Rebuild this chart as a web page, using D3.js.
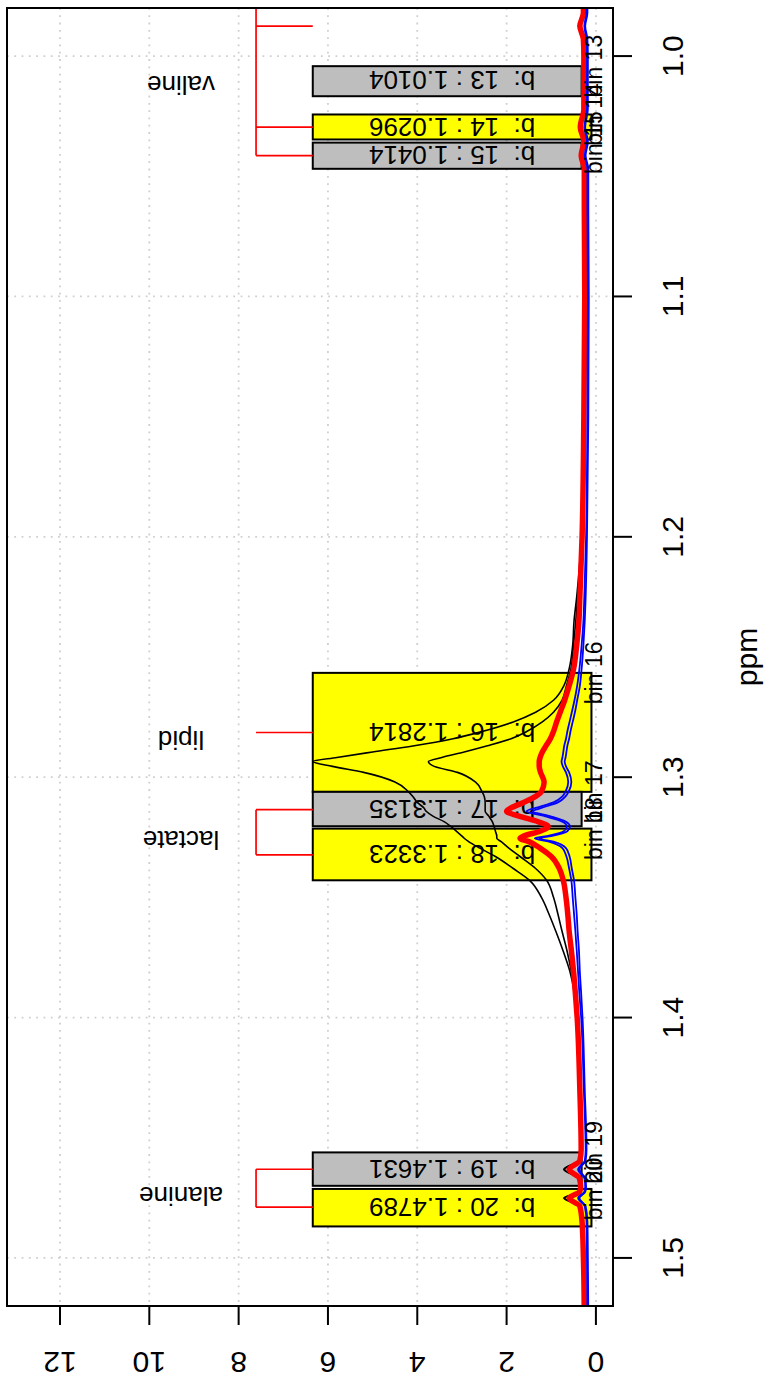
<!DOCTYPE html>
<html><head><meta charset="utf-8">
<script src="https://cdn.jsdelivr.net/npm/d3@7"></script>
<style>html,body{margin:0;padding:0;background:#fff}text{font-family:"Liberation Sans",Arial,Helvetica,sans-serif;white-space:pre}</style>
</head><body>
<svg id="chart" width="773" height="1384"></svg>
<script>
// ---- data ----
const ppm = [0.975,0.982,0.9875,0.993,1.000,1.010,1.022,1.0296,1.0355,1.0414,
 1.047,1.060,1.100,1.150,1.200,1.225,1.235,1.245,1.255,1.262,
 1.268,1.273,1.277,1.281,1.284,1.287,1.2895,1.2918,1.2935,1.2955,
 1.298,1.302,1.306,1.308,1.3105,1.3128,1.3142,1.3162,1.3185,1.3205,
 1.3225,1.3245,1.3254,1.3268,1.3295,1.333,1.338,1.343,1.350,1.357,
 1.364,1.372,1.381,1.390,1.400,1.430,1.455,1.4595,1.4632,1.4668,
 1.4705,1.4725,1.4751,1.4785,1.485,1.500,1.525];
const redSpectrum = [0.28,0.28,0.36,0.28,0.27,0.27,0.27,0.35,0.27,0.33,
 0.26,0.26,0.25,0.27,0.31,0.36,0.38,0.43,0.50,0.60,
 0.70,0.80,0.88,0.95,1.02,1.12,1.20,1.25,1.27,1.27,
 1.24,1.16,1.22,1.35,1.62,1.90,2.00,1.72,1.30,1.07,
 1.25,1.62,1.70,1.50,1.25,1.00,0.82,0.73,0.67,0.63,
 0.60,0.55,0.50,0.46,0.42,0.36,0.33,0.36,0.60,0.37,
 0.34,0.37,0.60,0.36,0.31,0.28,0.26];
const blueSpectrum1 = [0.21,0.21,0.26,0.21,0.20,0.20,0.20,0.26,0.20,0.25,
 0.19,0.19,0.18,0.19,0.22,0.26,0.28,0.32,0.37,0.42,
 0.48,0.54,0.59,0.64,0.67,0.71,0.73,0.75,0.77,0.74,
 0.67,0.62,0.68,0.75,0.95,1.35,1.55,1.15,0.75,0.65,
 0.72,1.10,1.37,1.05,0.75,0.66,0.60,0.55,0.52,0.49,
 0.46,0.43,0.40,0.37,0.33,0.27,0.23,0.25,0.40,0.26,
 0.24,0.26,0.40,0.25,0.21,0.20,0.19];
const blueSpectrum2 = [0.19,0.19,0.24,0.19,0.18,0.18,0.18,0.24,0.18,0.23,
 0.17,0.17,0.16,0.17,0.20,0.23,0.25,0.28,0.32,0.36,
 0.42,0.47,0.52,0.57,0.60,0.64,0.66,0.68,0.70,0.67,
 0.60,0.55,0.61,0.68,0.85,1.22,1.42,1.03,0.67,0.58,
 0.64,1.00,1.27,0.95,0.67,0.59,0.54,0.49,0.46,0.43,
 0.41,0.38,0.36,0.33,0.30,0.25,0.21,0.23,0.37,0.24,
 0.22,0.24,0.37,0.23,0.19,0.18,0.17];
const blackSpectrum1 = [0.29,0.29,0.39,0.29,0.28,0.28,0.28,0.37,0.28,0.35,
 0.27,0.27,0.26,0.28,0.33,0.43,0.49,0.52,0.60,0.72,
 0.95,1.35,1.85,2.55,3.20,4.10,5.00,5.80,6.34,5.90,
 5.20,4.50,4.20,4.10,4.00,3.85,3.80,3.65,3.40,3.25,
 3.12,3.00,2.95,2.85,2.60,2.25,1.85,1.48,1.22,1.05,
 0.90,0.74,0.58,0.48,0.42,0.35,0.33,0.38,0.72,0.38,
 0.34,0.38,0.72,0.37,0.31,0.28,0.27];
const blackSpectrum2 = [0.29,0.29,0.37,0.29,0.28,0.28,0.28,0.36,0.28,0.34,
 0.27,0.27,0.26,0.28,0.32,0.41,0.45,0.50,0.56,0.66,
 0.76,0.95,1.20,1.55,1.90,2.45,2.95,3.45,3.75,3.62,
 3.10,2.70,2.55,2.50,2.48,2.48,2.48,2.40,2.32,2.28,
 2.25,2.22,2.22,2.12,1.95,1.70,1.35,1.10,0.95,0.85,
 0.76,0.65,0.55,0.47,0.41,0.34,0.32,0.37,0.70,0.37,
 0.33,0.37,0.70,0.36,0.30,0.27,0.26];

const binIds = [13,14,15,16,17,18,19,20];
const binCenters = [1.0104,1.0296,1.0414,1.2814,1.3135,1.3323,1.4631,1.4789];
const binStart = [1.0042,1.0243,1.0360,1.2566,1.3061,1.3214,1.4561,1.4713];
const binEnd   = [1.0167,1.0347,1.0469,1.3061,1.3204,1.3429,1.4700,1.4869];
const binTop = 6.34;
const binBottomEven = 0.10, binBottomOdd = 0.32;

const metaboliteNames = ["valine","lipid","lactate","alanine"];
const metaboliteBinCenters = [[0.9757,0.9875,1.0296,1.0414],[1.2814],[1.3135,1.3323],[1.4631,1.4789]];

const ppmTicks = [1.0,1.1,1.2,1.3,1.4,1.5];
const intensityTicks = [0,2,4,6,8,10,12];
const ppmDomain = [0.98,1.52];
const intensityDomain = [-0.3825,13.1865];

// ---- layout ----
const box = {left:7,right:613,top:8,bottom:1306};
const svg = d3.select("#chart");
const y = d3.scaleLinear().domain(ppmDomain).range([box.top,box.bottom]);
const x = d3.scaleLinear().domain(intensityDomain).range([box.right,box.left]);

svg.append("defs").append("clipPath").attr("id","clip")
  .append("rect").attr("x",box.left).attr("y",box.top)
  .attr("width",box.right-box.left).attr("height",box.bottom-box.top);

// grid
const grid = svg.append("g").attr("stroke","#cfcfcf").attr("stroke-width",1.8).attr("stroke-dasharray","1.8 5.5");
grid.selectAll("line.v").data(intensityTicks).join("line")
  .attr("x1",d=>x(d)).attr("x2",d=>x(d)).attr("y1",box.top).attr("y2",box.bottom);
grid.selectAll("line.h").data(ppmTicks).join("line")
  .attr("y1",d=>y(d)).attr("y2",d=>y(d)).attr("x1",box.left).attr("x2",box.right);

const plot = svg.append("g").attr("clip-path","url(#clip)");

// bins
const bins = binIds.map((id,i)=>({id,c:binCenters[i],s:binStart[i],e:binEnd[i],
  bottom: id%2===0?binBottomEven:binBottomOdd, fill: id%2===0?"#ffff00":"#bebebe"}));
plot.selectAll("rect.bin").data(bins).join("rect")
  .attr("x",d=>x(binTop)).attr("width",d=>x(d.bottom)-x(binTop))
  .attr("y",d=>y(d.s)).attr("height",d=>y(d.e)-y(d.s))
  .attr("fill",d=>d.fill).attr("stroke","#000").attr("stroke-width",2);
plot.selectAll("text.binlab").data(bins).join("text")
  .attr("transform",d=>`translate(${x(3.22)},${y(d.c)}) rotate(180)`)
  .attr("text-anchor","middle").attr("dy","0.37em").attr("font-size",26)
  .text(d=>`b:  ${d.id} : ${d.c.toFixed(4)}`);

// spectra
const line = d3.line().x(d=>x(d[1])).y(d=>y(d[0])).curve(d3.curveMonotoneY);
const series = [
  {v:blackSpectrum1,c:"#000",w:1.6},
  {v:blackSpectrum2,c:"#000",w:1.6},
  {v:redSpectrum,c:"#ff0000",w:5.5},
  {v:blueSpectrum1,c:"#0000ff",w:1.8},
  {v:blueSpectrum2,c:"#0000ff",w:1.8}
];
series.forEach(s=>{
  plot.append("path").datum(ppm.map((p,i)=>[p,s.v[i]]))
    .attr("d",line).attr("fill","none").attr("stroke",s.c).attr("stroke-width",s.w)
    .attr("stroke-linejoin","round");
});

// bracket annotations
const bracketX = 7.61, labelX = 9.29;
metaboliteNames.forEach((name,i)=>{
  const cs = metaboliteBinCenters[i];
  const g = plot.append("g").attr("stroke","#ff0000").attr("stroke-width",1.7);
  if(cs.length>1) g.append("line").attr("x1",x(bracketX)).attr("x2",x(bracketX))
    .attr("y1",y(d3.min(cs))).attr("y2",y(d3.max(cs)));
  cs.forEach(c=>g.append("line").attr("x1",x(bracketX)).attr("x2",x(binTop)).attr("y1",y(c)).attr("y2",y(c)));
  const mid = (d3.min(cs)+d3.max(cs))/2;
  plot.append("text").attr("transform",`translate(${x(labelX)},${y(mid)}) rotate(180)`)
    .attr("text-anchor","middle").attr("dy","0.04em").attr("font-size",26).text(name);
});

// bin labels
plot.selectAll("text.binname").data(bins).join("text")
  .attr("transform",d=>`translate(${x(-0.13)},${y(d.s)}) rotate(-90)`)
  .attr("text-anchor","middle").attr("font-size",23).text(d=>`bin ${d.id}`);

// box
svg.append("rect").attr("x",box.left).attr("y",box.top)
  .attr("width",box.right-box.left).attr("height",box.bottom-box.top)
  .attr("fill","none").attr("stroke","#000").attr("stroke-width",2);

// axes
const ax = svg.append("g").attr("stroke","#000").attr("stroke-width",2);
ax.selectAll("line.bt").data(intensityTicks).join("line")
  .attr("x1",d=>x(d)).attr("x2",d=>x(d)).attr("y1",box.bottom).attr("y2",box.bottom+19);
ax.selectAll("line.rt").data(ppmTicks).join("line")
  .attr("y1",d=>y(d)).attr("y2",d=>y(d)).attr("x1",box.right).attr("x2",box.right+19);
svg.selectAll("text.bl").data(intensityTicks).join("text")
  .attr("transform",d=>`translate(${x(d)},${box.bottom+46}) rotate(180)`)
  .attr("text-anchor","middle").attr("font-size",30).text(d=>d);
svg.selectAll("text.rl").data(ppmTicks).join("text")
  .attr("transform",d=>`translate(${box.right+70},${y(d)}) rotate(-90)`)
  .attr("text-anchor","middle").attr("font-size",30).text(d=>d.toFixed(1));
svg.append("text").attr("transform",`translate(${box.right+144},${(box.top+box.bottom)/2}) rotate(-90)`)
  .attr("text-anchor","middle").attr("font-size",30).text("ppm");
</script>
</body></html>
